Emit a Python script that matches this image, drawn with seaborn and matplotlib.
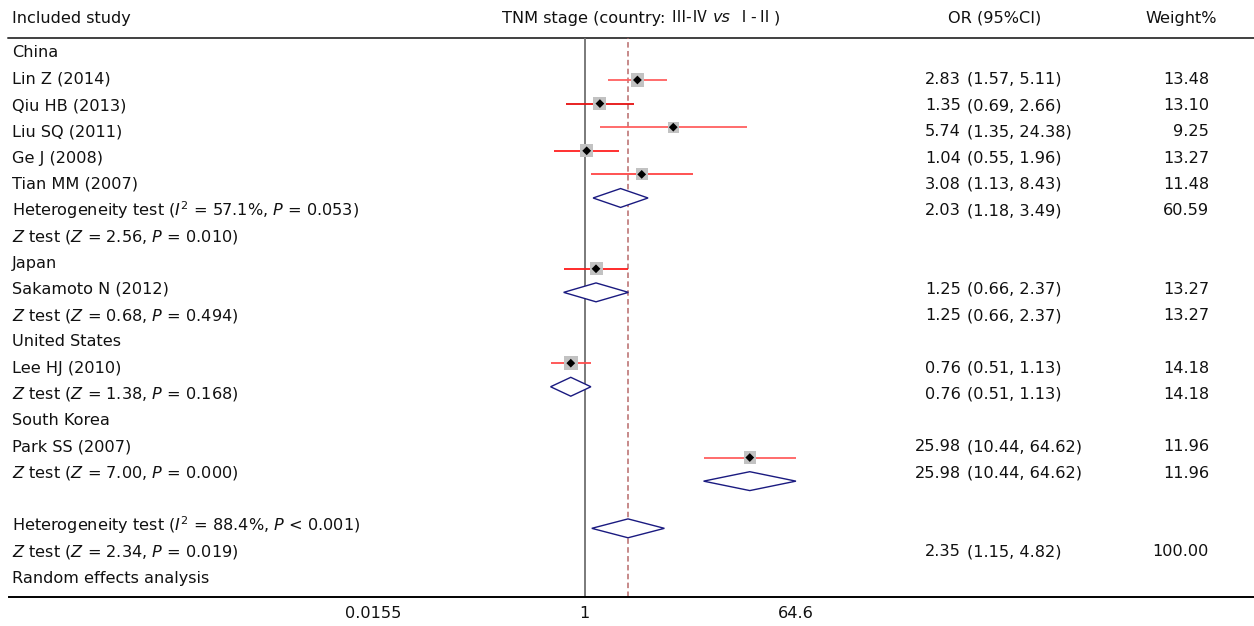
import numpy as np
import pandas as pd
import matplotlib
matplotlib.use("Agg")
import matplotlib.pyplot as plt
import seaborn as sns
from matplotlib.patches import Polygon
from matplotlib.lines import Line2D
from matplotlib.ticker import NullLocator

# ---------------- data ----------------
row_labels = [
    "China",
    "Lin Z (2014)",
    "Qiu HB (2013)",
    "Liu SQ (2011)",
    "Ge J (2008)",
    "Tian MM (2007)",
    r"Heterogeneity test ($\mathit{I}^2$ = 57.1%, $\mathit{P}$ = 0.053)",
    r"$\mathit{Z}$ test ($\mathit{Z}$ = 2.56, $\mathit{P}$ = 0.010)",
    "Japan",
    "Sakamoto N (2012)",
    r"$\mathit{Z}$ test ($\mathit{Z}$ = 0.68, $\mathit{P}$ = 0.494)",
    "United States",
    "Lee HJ (2010)",
    r"$\mathit{Z}$ test ($\mathit{Z}$ = 1.38, $\mathit{P}$ = 0.168)",
    "South Korea",
    "Park SS (2007)",
    r"$\mathit{Z}$ test ($\mathit{Z}$ = 7.00, $\mathit{P}$ = 0.000)",
    "",
    r"Heterogeneity test ($\mathit{I}^2$ = 88.4%, $\mathit{P}$ < 0.001)",
    r"$\mathit{Z}$ test ($\mathit{Z}$ = 2.34, $\mathit{P}$ = 0.019)",
    "Random effects analysis",
]
or_column = [
    "", "2.83 (1.57, 5.11)", "1.35 (0.69, 2.66)", "5.74 (1.35, 24.38)",
    "1.04 (0.55, 1.96)", "3.08 (1.13, 8.43)", "2.03 (1.18, 3.49)", "",
    "", "1.25 (0.66, 2.37)", "1.25 (0.66, 2.37)",
    "", "0.76 (0.51, 1.13)", "0.76 (0.51, 1.13)",
    "", "25.98 (10.44, 64.62)", "25.98 (10.44, 64.62)",
    "", "", "2.35 (1.15, 4.82)", "",
]
weight_column = [
    "", "13.48", "13.10", "9.25", "13.27", "11.48", "60.59", "",
    "", "13.27", "13.27", "", "14.18", "14.18", "", "11.96", "11.96",
    "", "", "100.00", "",
]

study_names = ["Lin Z (2014)", "Qiu HB (2013)", "Liu SQ (2011)", "Ge J (2008)",
               "Tian MM (2007)", "Sakamoto N (2012)", "Lee HJ (2010)", "Park SS (2007)"]
study_or = [2.83, 1.35, 5.74, 1.04, 3.08, 1.25, 0.76, 25.98]
study_lo = [1.57, 0.69, 1.35, 0.55, 1.13, 0.66, 0.51, 10.44]
study_hi = [5.11, 2.66, 24.38, 1.96, 8.43, 2.37, 1.13, 64.62]
study_weight = [13.48, 13.10, 9.25, 13.27, 11.48, 13.27, 14.18, 11.96]
# row of each mark on the plot's own row grid (as drawn in the original figure)
study_plot_row = [1, 2, 3, 4, 5, 9, 13, 17]
study_line_color = ["#ff6060", "#e61010", "#ff6060", "#ff2020", "#ff4444",
                    "#ff1a1a", "#ff4c4c", "#ff6060"]

pooled_names = ["China", "Japan", "United States", "South Korea", "Overall"]
pooled_or = [2.03, 1.25, 0.76, 25.98, 2.35]
pooled_lo = [1.18, 0.66, 0.51, 10.44, 1.15]
pooled_hi = [3.49, 2.37, 1.13, 64.62, 4.82]
pooled_plot_row = [6, 10, 14, 18, 20]

x_ticks = [0.0155, 1, 64.6]
x_tick_labels = ["0.0155", "1", "64.6"]
overall_estimate = 2.35

# ---------------- style ----------------
sns.set_style("white")
plt.rcParams["font.family"] = ["DejaVu Sans", "Noto Sans CJK SC"]
plt.rcParams["mathtext.fontset"] = "dejavusans"
FS = 11.6
TXT = "#111111"

W, H = 1254, 626
fig = plt.figure(figsize=(W / 100, H / 100), dpi=100)


def fx(px):
    return px / W


def fy(py):
    return 1 - py / H


rect = [fx(9), fy(597), 1 - fx(9), fy(38) - fy(597)]

# text axes (pixel-like x, table rows as y)
tx = fig.add_axes([0, fy(597), 1, fy(38) - fy(597)], zorder=1)
tx.set_xlim(0, W)
tx.set_ylim(20.72, -0.571)
tx.axis("off")

# forest axes
ax = fig.add_axes(rect, zorder=2)
ax.patch.set_alpha(0)

# ---------------- forest marks ----------------
df_st = pd.DataFrame({"study": study_names, "or": study_or, "lo": study_lo,
                      "hi": study_hi, "weight": study_weight, "row": study_plot_row})
df_pool = pd.DataFrame({"group": pooled_names, "or": pooled_or, "lo": pooled_lo,
                        "hi": pooled_hi, "row": pooled_plot_row})

ax.set_xscale("log")
ax.axvline(1, color="#707070", lw=1.3, zorder=1)
ax.axvline(overall_estimate, color="#b86a6a", lw=1.1, ls=(0, (3.6, 2.2)), zorder=1)

ax.hlines(df_st["row"], df_st["lo"], df_st["hi"], colors=study_line_color, lw=1.3, zorder=2)

sns.scatterplot(data=df_st, x="or", y="row", size="weight",
                sizes=(9.25 * 6.6, 14.18 * 6.6), size_norm=(9.25, 14.18),
                marker="s", color="#c2c2c2", edgecolor="none", linewidth=0,
                legend=False, ax=ax, zorder=3)
sns.scatterplot(data=df_st, x="or", y="row", marker="D", s=20, color="black",
                edgecolor="none", linewidth=0, legend=False, ax=ax, zorder=4)

half_h = 0.4
for _, r in df_pool.iterrows():
    poly = Polygon([(r["lo"], r["row"]), (r["or"], r["row"] - half_h),
                    (r["hi"], r["row"]), (r["or"], r["row"] + half_h)],
                   closed=True, facecolor="white", edgecolor="#1a1a80", lw=1.0, zorder=5)
    ax.add_patch(poly)

scale = 50.68
x_one = 584.7
ax.set_xlim(np.exp((9 - x_one) / scale), np.exp((W - x_one) / scale))
ax.set_ylim(22.91, -0.78)
ax.set_xticks(x_ticks)
ax.set_xticklabels(x_tick_labels, fontsize=FS, color=TXT)
ax.xaxis.set_minor_locator(NullLocator())
ax.set_yticks([])
ax.tick_params(axis="x", direction="in", length=7, width=1, color="#555555", pad=6.5)
for s in ["top", "left", "right"]:
    ax.spines[s].set_visible(False)
ax.spines["bottom"].set_color("black")
ax.spines["bottom"].set_linewidth(1.4)
ax.set_xlabel("")
ax.set_ylabel("")

# ---------------- table text ----------------
for i, lab in enumerate(row_labels):
    if lab:
        tx.text(12, i, lab, ha="left", va="center", fontsize=FS, color=TXT)
for i, s in enumerate(or_column):
    if s:
        est, ci = s.split(" (", 1)
        tx.text(961, i, est, ha="right", va="center", fontsize=FS, color=TXT)
        tx.text(967, i, "(" + ci, ha="left", va="center", fontsize=FS, color=TXT)
for i, s in enumerate(weight_column):
    if s:
        tx.text(1209, i, s, ha="right", va="center", fontsize=FS, color=TXT)

# ---------------- header ----------------
fig.text(fx(12), fy(18), "Included study", ha="left", va="center", fontsize=FS, color=TXT)
fig.text(fx(995), fy(18), "OR (95%CI)", ha="center", va="center", fontsize=FS, color=TXT)
fig.text(fx(1181), fy(18), "Weight%", ha="center", va="center", fontsize=FS, color=TXT)

cjk = ["Noto Sans CJK SC", "DejaVu Sans"]
runs = [("TNM stage (country: ", {}), ("Ⅲ-Ⅳ", {"family": cjk}), (" ", {}),
        ("vs", {"style": "italic"}), (" ", {}), ("Ⅰ-Ⅱ", {"family": cjk}), (")", {})]
renderer = fig.canvas.get_renderer()
objs = []
widths = []
for t, kw in runs:
    o = fig.text(0, fy(18), t, ha="left", va="center", fontsize=FS, color=TXT, **kw)
    objs.append(o)
    widths.append(o.get_window_extent(renderer).width)
total = sum(widths)
x0 = 641 - total / 2
for o, w in zip(objs, widths):
    o.set_x(fx(x0))
    x0 += w

fig.add_artist(Line2D([fx(8), 1], [fy(38), fy(38)], color="#404040", lw=1.4,
                      transform=fig.transFigure))

fig.savefig("out.png", dpi=100)
